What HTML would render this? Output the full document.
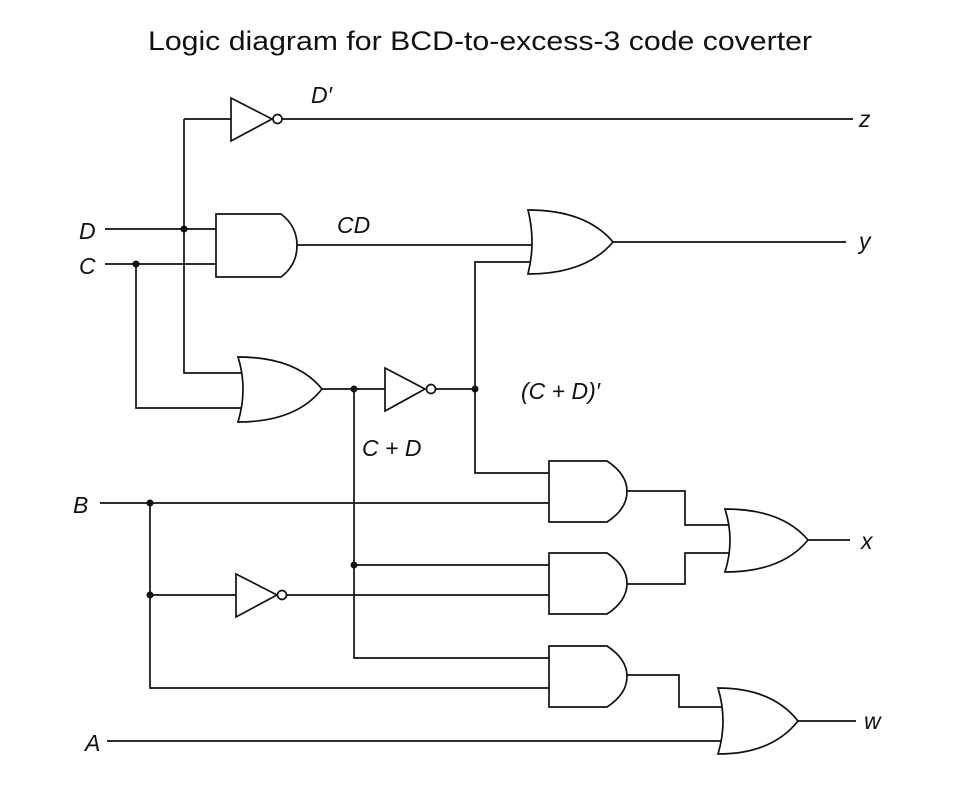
<!DOCTYPE html>
<html><head><meta charset="utf-8"><style>
html,body{margin:0;padding:0;background:#fff;}
svg{display:block;}
text{font-family:"Liberation Sans",Arial,sans-serif;fill:#111;}
.l{font-style:italic;font-size:23px;}
</style></head><body>
<svg width="979" height="805" viewBox="0 0 979 805" xmlns="http://www.w3.org/2000/svg">
<text x="148" y="50" font-size="27" textLength="664" lengthAdjust="spacingAndGlyphs">Logic diagram for BCD-to-excess-3 code coverter</text>
<g fill="none" stroke="#111" stroke-width="1.7">
<path d="M184 119 H231"/>
<path d="M231 98 L272 119 L231 141 Z" fill="#fff"/>
<circle cx="277.5" cy="119" r="4.5" fill="#fff"/>
<path d="M282 119 H853"/>
<path d="M105 229 H216"/>
<path d="M105 264 H216"/>
<path d="M184 119 V373 H243"/>
<path d="M136 264 V408 H243"/>
<path d="M216 214 H281 Q297 226 297 245.5 Q297 265 281 277 H216 Z" fill="#fff"/>
<path d="M297 245 H536"/>
<path d="M475 389 V262 H535"/>
<path d="M528 210 Q536 242 528 274 Q586 274 613 242 Q586 210 528 210 Z" fill="#fff"/>
<path d="M613 242 H846"/>
<path d="M238 357 Q248 389 238 422 Q296 422 322 389 Q296 357 238 357 Z" fill="#fff"/>
<path d="M322 389 H385"/>
<path d="M385 368 L425 389 L385 411 Z" fill="#fff"/>
<circle cx="431" cy="389" r="4.5" fill="#fff"/>
<path d="M435.5 389 H475"/>
<path d="M354 389 V658 H549"/>
<path d="M475 389 V473 H549"/>
<path d="M100 503 H549"/>
<path d="M150 503 V688 H549"/>
<path d="M150 595 H236"/>
<path d="M236 574 L277 595 L236 617 Z" fill="#fff"/>
<circle cx="282" cy="595" r="4.5" fill="#fff"/>
<path d="M286.5 595 H549"/>
<path d="M354 565 H549"/>
<path d="M549 461 H607 Q627 474 627 491.5 Q627 509 607 522 H549 Z" fill="#fff"/>
<path d="M549 553 H607 Q627 566 627 583.5 Q627 601 607 614 H549 Z" fill="#fff"/>
<path d="M549 646 H607 Q627 659 627 676.5 Q627 694 607 707 H549 Z" fill="#fff"/>
<path d="M627 491 H685 V525 H732"/>
<path d="M627 584 H685 V553 H732"/>
<path d="M725 509 Q735 540 725 572 Q782 572 808 540 Q782 509 725 509 Z" fill="#fff"/>
<path d="M808 540 H850"/>
<path d="M627 675 H679 V707 H724"/>
<path d="M107 741 H724"/>
<path d="M718 688 Q728 721 718 754 Q772 754 798 721 Q772 688 718 688 Z" fill="#fff"/>
<path d="M798 721 H856"/>
</g>
<g fill="#111">
<circle cx="184" cy="229" r="3.5"/>
<circle cx="136" cy="264" r="3.5"/>
<circle cx="354" cy="389" r="3.5"/>
<circle cx="475" cy="389" r="3.5"/>
<circle cx="150" cy="503" r="3.5"/>
<circle cx="150" cy="595" r="3.5"/>
<circle cx="354" cy="565" r="3.5"/>
</g>
<text class="l" x="311" y="103">D′</text>
<text class="l" x="337" y="233">CD</text>
<text class="l" x="79" y="239">D</text>
<text class="l" x="79" y="274">C</text>
<text class="l" x="521" y="399">(C + D)′</text>
<text class="l" x="362" y="456">C + D</text>
<text class="l" x="73" y="513">B</text>
<text class="l" x="85" y="751">A</text>
<text class="l" x="859" y="127">z</text>
<text class="l" x="859" y="249">y</text>
<text class="l" x="861" y="549">x</text>
<text class="l" x="864" y="729">w</text>
</svg>
</body></html>
